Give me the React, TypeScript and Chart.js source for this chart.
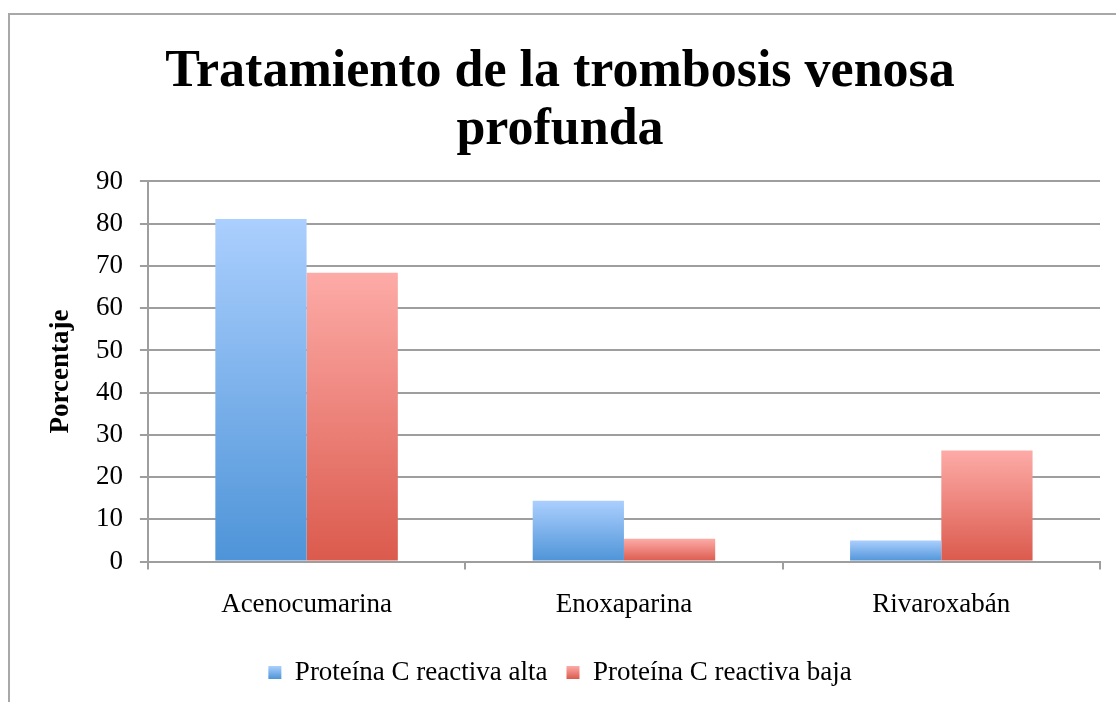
import React, { useEffect, useRef } from "react";
import { Chart, registerables } from "chart.js";

Chart.register(...registerables);

const categories = ["Acenocumarina", "Enoxaparina", "Rivaroxabán"];
const seriesNames = ["Proteína C reactiva alta", "Proteína C reactiva baja"];
const altaValues = [81.1, 14.4, 5.0];
const bajaValues = [68.4, 5.4, 26.3];
const yTicksMax = 90;
const yStep = 10;

const titleLines = ["Tratamiento de la trombosis venosa", "profunda"];
const yTitle = "Porcentaje";

const blueTop = "#abcffe";
const blueBottom = "#4e94d8";
const redTop = "#fdaba7";
const redBottom = "#db5a4d";
const seriesGradients = [
  [blueTop, blueBottom],
  [redTop, redBottom],
];
const gridColor = "#9e9e9e";
const FONT = "'Liberation Serif', 'Times New Roman', serif";
const LEGEND_BOX = 13;

function gradientFill(top: string, bottom: string, solid: string) {
  return (ctx: any) => {
    const chart = ctx.chart;
    const y = chart.scales && chart.scales.y;
    if (ctx.type !== "data" || !y || !chart.chartArea) return solid;
    const v = typeof ctx.raw === "number" ? ctx.raw : 0;
    const p1 = y.getPixelForValue(v);
    const p0 = y.getPixelForValue(0);
    if (!isFinite(p1) || !isFinite(p0) || p0 === p1) return solid;
    const g = chart.ctx.createLinearGradient(0, p1, 0, p0);
    g.addColorStop(0, top);
    g.addColorStop(1, bottom);
    return g;
  };
}

const legendGradientBoxes = {
  id: "legendGradientBoxes",
  afterDraw(chart: any) {
    const legend = chart.legend;
    if (!legend || !legend.legendHitBoxes) return;
    const ctx = chart.ctx;
    legend.legendHitBoxes.forEach((hb: any, i: number) => {
      const cols = seriesGradients[i];
      if (!cols) return;
      const top = hb.top + (hb.height - LEGEND_BOX) / 2;
      const g = ctx.createLinearGradient(0, top, 0, top + LEGEND_BOX);
      g.addColorStop(0, cols[0]);
      g.addColorStop(1, cols[1]);
      ctx.save();
      ctx.fillStyle = g;
      ctx.fillRect(hb.left, top, LEGEND_BOX, LEGEND_BOX);
      ctx.restore();
    });
  },
};

export default function App() {
  const ref = useRef<HTMLCanvasElement>(null);

  useEffect(() => {
    if (!ref.current) return;
    const chart = new Chart(ref.current, {
      type: "bar",
      data: {
        labels: categories,
        datasets: [
          {
            label: seriesNames[0],
            data: altaValues,
            backgroundColor: gradientFill(blueTop, blueBottom, "#7db2ea"),
            borderWidth: 0,
            categoryPercentage: 0.575,
            barPercentage: 1,
          },
          {
            label: seriesNames[1],
            data: bajaValues,
            backgroundColor: gradientFill(redTop, redBottom, "#ec827a"),
            borderWidth: 0,
            categoryPercentage: 0.575,
            barPercentage: 1,
          },
        ],
      },
      options: {
        responsive: false,
        animation: false,
        layout: { padding: { left: 10, right: 16, top: 0, bottom: 6 } },
        plugins: {
          title: {
            display: true,
            text: titleLines,
            color: "#000",
            font: { family: FONT, size: 52, weight: "bold", lineHeight: 1.12 },
            padding: { top: 28, bottom: 22 },
          },
          legend: {
            position: "bottom",
            labels: {
              color: "#000",
              font: { family: FONT, size: 27 },
              boxWidth: LEGEND_BOX,
              boxHeight: LEGEND_BOX,
              padding: 19,
              generateLabels: (c: any) =>
                c.data.datasets.map((ds: any, i: number) => ({
                  text: ds.label,
                  fillStyle: "rgba(0,0,0,0)",
                  strokeStyle: "rgba(0,0,0,0)",
                  lineWidth: 0,
                  hidden: false,
                  datasetIndex: i,
                  fontColor: "#000",
                })),
            },
          },
          tooltip: { enabled: false },
        },
        scales: {
          x: {
            offset: true,
            grid: {
              display: true,
              offset: true,
              drawOnChartArea: false,
              drawTicks: true,
              tickLength: 8,
              color: gridColor,
              lineWidth: 2,
            },
            border: { display: true, color: gridColor, width: 2 },
            ticks: {
              color: "#000",
              font: { family: FONT, size: 27 },
              padding: 19,
              maxRotation: 0,
            },
          },
          y: {
            min: 0,
            max: yTicksMax,
            ticks: {
              stepSize: yStep,
              color: "#000",
              font: { family: FONT, size: 27 },
              padding: 17,
            },
            grid: {
              color: gridColor,
              lineWidth: 2,
              tickLength: 8,
              drawTicks: true,
            },
            border: { display: true, color: gridColor, width: 2 },
            title: {
              display: true,
              text: yTitle,
              color: "#000",
              font: { family: FONT, size: 27, weight: "bold" },
              padding: { top: 25, bottom: 1.5 },
            },
          },
        },
      },
      plugins: [legendGradientBoxes],
    });
    return () => chart.destroy();
  }, []);

  return (
    <div
      style={{
        position: "fixed",
        left: 8,
        top: 13,
        width: 1106,
        height: 687,
        borderLeft: "2px solid #a8a8a8",
        borderTop: "2px solid #a8a8a8",
        background: "#fff",
      }}
    >
      <canvas ref={ref} width={1106} height={687} style={{ display: "block" }} />
    </div>
  );
}
